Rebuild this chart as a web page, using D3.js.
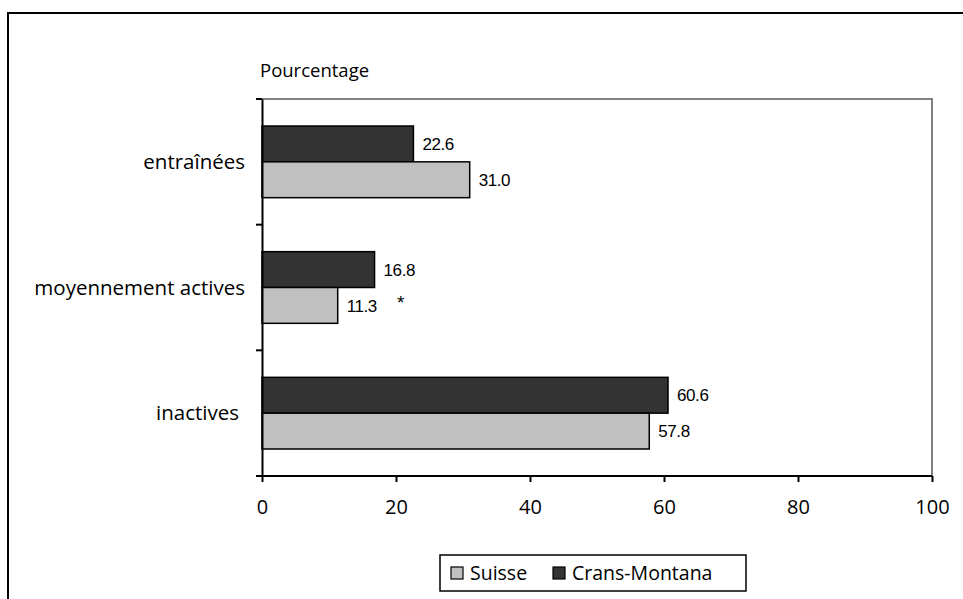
<!DOCTYPE html>
<html>
<head>
<meta charset="utf-8">
<script src="https://cdn.jsdelivr.net/npm/d3@7"></script>
<style>
  html, body { margin: 0; padding: 0; background: #fff; }
  svg { display: block; }
  .cat, .tick-lbl, .unit, .leg { font-family: "Open Sans", "Noto Sans", sans-serif; fill: #000; }
  .val { font-family: "Liberation Sans", Arial, sans-serif; fill: #000; }
</style>
</head>
<body>
<div id="chart"></div>
<script>
// Physical activity levels: Crans-Montana vs Suisse, in percent.

const categories = ['entraînées', 'moyennement actives', 'inactives'];
const series = ['Crans-Montana', 'Suisse'];
const cransMontana = [22.6, 16.8, 60.6];
const suisse = [31.0, 11.3, 57.8];
const xTicks = [0, 20, 40, 60, 80, 100];
const legendOrder = ['Suisse', 'Crans-Montana'];
const starred = ['moyennement actives'];

const COLORS = { 'Crans-Montana': '#333333', 'Suisse': '#c0c0c0' };

const W = 963, H = 599;
const svg = d3.select('#chart').append('svg')
  .attr('width', W).attr('height', H)
  .attr('viewBox', `0 0 ${W} ${H}`);

// outer frame (cut by the page edge on right and bottom)
svg.append('rect')
  .attr('x', 8).attr('y', 13)
  .attr('width', W + 20).attr('height', H + 20)
  .attr('fill', 'none').attr('stroke', '#000').attr('stroke-width', 2);

const plot = { left: 262, right: 932, top: 99, bottom: 476 };

const x = d3.scaleLinear().domain([0, 100]).range([plot.left, plot.right]);
const y = d3.scaleBand().domain(categories).range([plot.top, plot.bottom]);
const inner = d3.scaleBand().domain(series).range([27, y.bandwidth() - 27]);

const rows = categories.map((c, i) => ({
  cat: c,
  vals: [
    { s: 'Crans-Montana', v: cransMontana[i] },
    { s: 'Suisse', v: suisse[i] },
  ],
}));

// top & right frame of plot area (gray)
svg.append('path')
  .attr('d', `M${plot.left},${plot.top}H${plot.right}V${plot.bottom}`)
  .attr('fill', 'none').attr('stroke', '#808080').attr('stroke-width', 2);

const groups = svg.append('g').selectAll('g')
  .data(rows)
  .join('g')
  .attr('transform', (d) => `translate(0,${y(d.cat)})`);

groups.selectAll('rect')
  .data((d) => d.vals)
  .join('rect')
  .attr('x', x(0))
  .attr('y', (d) => inner(d.s))
  .attr('width', (d) => x(d.v) - x(0))
  .attr('height', inner.bandwidth())
  .attr('fill', (d) => COLORS[d.s])
  .attr('stroke', '#000')
  .attr('stroke-width', 1.5);

groups.selectAll('text.val')
  .data((d) => d.vals)
  .join('text')
  .attr('class', 'val')
  .attr('x', (d) => x(d.v) + 9)
  .attr('y', (d) => inner(d.s) + inner.bandwidth() / 2)
  .attr('dy', '0.36em')
  .attr('font-size', 17)
  .attr('letter-spacing', -0.4)
  .text((d) => d.v.toFixed(1));

// significance mark
groups.filter((d) => starred.includes(d.cat))
  .append('text')
  .attr('class', 'val')
  .attr('x', (d) => x(d.vals[1].v) + 63)
  .attr('y', (d) => inner('Suisse') + 8)
  .attr('dy', '0.7em')
  .attr('text-anchor', 'middle')
  .attr('font-size', 19)
  .text('*');

// category axis
const yAxis = svg.append('g')
  .attr('transform', `translate(${plot.left},0)`)
  .call(d3.axisLeft(y).tickSize(0).tickFormat(() => ''));
yAxis.select('.domain').attr('stroke', '#000').attr('stroke-width', 2);
yAxis.selectAll('.tick').remove();
// tick marks at band edges
const edges = categories.map((c) => y(c)).concat([plot.bottom]);
svg.append('g').selectAll('line')
  .data(edges)
  .join('line')
  .attr('x1', plot.left - 6).attr('x2', plot.left)
  .attr('y1', (d) => d).attr('y2', (d) => d)
  .attr('stroke', '#000').attr('stroke-width', 2);

svg.append('g').selectAll('text')
  .data(categories)
  .join('text')
  .attr('class', 'cat')
  .attr('x', (d) => d === 'inactives' ? 239 : 245)
  .attr('y', (d) => y(d) + y.bandwidth() / 2)
  .attr('dy', '0.35em')
  .attr('text-anchor', 'end')
  .attr('font-size', 20.5)
  .text((d) => d);

// value axis
const xAxis = svg.append('g')
  .attr('transform', `translate(0,${plot.bottom})`)
  .call(d3.axisBottom(x).tickValues(xTicks).tickSize(6).tickPadding(18));
xAxis.select('.domain').attr('stroke', '#000').attr('stroke-width', 2).attr('d', `M${plot.left - 6},0H${plot.right}`);
xAxis.selectAll('.tick line').attr('stroke', '#000').attr('stroke-width', 2);
xAxis.selectAll('.tick text')
  .attr('class', 'tick-lbl')
  .attr('font-size', 20)
  .attr('font-family', '"Open Sans", "Noto Sans", sans-serif')
  .attr('fill', '#000');

svg.append('text')
  .attr('class', 'unit')
  .attr('x', 260).attr('y', 77)
  .attr('font-size', 18.5)
  .text('Pourcentage');

// legend
const leg = svg.append('g').attr('transform', 'translate(440,555)');
leg.append('rect')
  .attr('width', 306).attr('height', 36)
  .attr('fill', '#fff').attr('stroke', '#000').attr('stroke-width', 1.5);
const legX = { 'Suisse': 11, 'Crans-Montana': 113 };
const items = leg.selectAll('g.item')
  .data(legendOrder)
  .join('g')
  .attr('transform', (d) => `translate(${legX[d]},0)`);
items.append('rect')
  .attr('y', 12).attr('width', 12).attr('height', 12)
  .attr('fill', (d) => COLORS[d]).attr('stroke', '#000').attr('stroke-width', 1.2);
items.append('text')
  .attr('class', 'leg')
  .attr('x', 19).attr('y', 18).attr('dy', '0.36em')
  .attr('font-size', 19.5)
  .text((d) => d);
</script>
</body>
</html>
